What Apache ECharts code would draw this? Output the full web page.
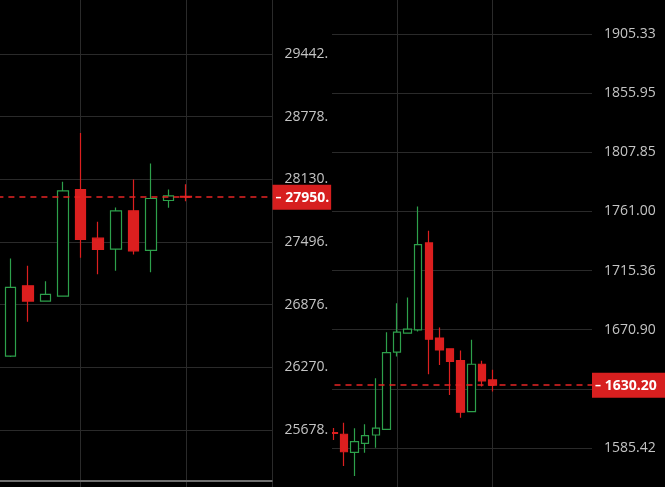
<!DOCTYPE html>
<html><head><meta charset="utf-8">
<script src="https://cdn.jsdelivr.net/npm/echarts@6/dist/echarts.min.js"></script>
<style>html,body{margin:0;padding:0;background:#000;}#c{width:665px;height:487px;}</style>
</head><body><div id="c"></div>
<script>
// ---------- Left panel data (candles, oldest first) ----------
const leftOpen  = [26379, 27062, 26912, 26961, 28028, 27536, 27426, 27811, 27413, 27916, 27958];
const leftClose = [27046, 26912, 26977, 28014, 27523, 27423, 27811, 27409, 27936, 27962, 27950];
const leftLow   = [26370, 26710, 26905, 26958, 27339, 27177, 27210, 27373, 27197, 27841, 27909];
const leftHigh  = [27333, 27260, 27108, 28106, 28611, 27700, 27845, 28130, 28294, 28028, 28082];
const leftTickLabels = ['25099.', '25678.', '26270.', '26876.', '27496.', '28130.', '28778.', '29442.', '30121.'];
const leftPriceTag = '27950.';

// ---------- Right panel data ----------
const rightOpen  = [1596.2, 1595.1, 1582.4, 1588.7, 1594.6, 1598.6, 1654.2, 1668.3, 1670.7, 1736.3, 1664.6, 1656.7, 1648.1, 1611.2, 1645.4, 1634.0];
const rightClose = [1595.8, 1582.8, 1589.9, 1594.1, 1599.4, 1653.9, 1669.0, 1671.2, 1735.0, 1663.8, 1655.9, 1647.4, 1610.8, 1645.4, 1633.3, 1630.2];
const rightLow   = [1591.1, 1572.8, 1565.8, 1582.1, 1585.6, 1598.5, 1651.0, 1668.1, 1669.4, 1638.2, 1644.9, 1623.2, 1606.9, 1611.0, 1629.2, 1625.6];
const rightHigh  = [1599.6, 1603.3, 1599.4, 1602.2, 1635.3, 1669.0, 1690.6, 1694.8, 1764.7, 1745.8, 1672.4, 1657.0, 1655.4, 1663.3, 1647.9, 1641.3];
const rightTickLabels = ['1544.32', '1585.42', '', '1670.90', '1715.36', '1761.00', '1807.85', '1855.95', '1905.33', '1956.00'];
const rightPriceTag = '1630.20';

// ---------- log-axis base derived from the tick labels ----------
function logAxis(labels, loIdx, hiIdx) {
  const lo = parseFloat(labels[loIdx]), hi = parseFloat(labels[hiIdx]);
  const r = Math.pow(hi / lo, 1 / (hiIdx - loIdx));
  const e = Math.round(Math.log(lo) / Math.log(r));
  const base = Math.pow(lo, 1 / e);
  const minExp = e - loIdx;
  const maxExp = minExp + labels.length - 1;
  return { base, minExp, min: Math.pow(base, minExp), max: Math.pow(base, maxExp) };
}
const L = logAxis(leftTickLabels, 1, 7);
const R = logAxis(rightTickLabels, 1, 8);

const GRID = '#2a2a2a';
const LABEL = '#c4c4c4';
const UP = '#2da04b', DOWN = '#dc1f1f', TAG = '#d71f1f', DASH = '#e62424';
const FONT = "'Open Sans', sans-serif";

function candles(o, c, l, h, offset) {
  return o.map((v, i) => [i + offset, v, c[i], l[i], h[i]]);
}
function tagLine(value, text, z, padRight) {
  const ls = { color: DASH, type: [6, 5], width: 1.5, opacity: 1 };
  return {
    z, symbol: ['none', 'none'], silent: true, animation: false,
    lineStyle: ls, itemStyle: { color: DASH },
    label: {
      show: true, position: 'end', distance: 0, formatter: '{d|\u2013} ' + text,
      color: '#fff', fontSize: 14, fontWeight: 'bold', fontFamily: FONT,
      backgroundColor: TAG, padding: [6, padRight, 5, 3],
      rich: { d: { color: '#fff', fontSize: 12, fontFamily: FONT } }
    },
    emphasis: { disabled: true },
    data: [{ yAxis: value, lineStyle: ls }]
  };
}
function yAxisCfg(ax, labels, gridIndex, lineColor, z) {
  return {
    type: 'log', logBase: ax.base, min: ax.min, max: ax.max, splitNumber: 9,
    gridIndex, position: 'right', z,
    axisLine: { show: true, lineStyle: { color: lineColor, width: 1 } },
    axisTick: { show: true, length: 6, lineStyle: { color: '#3a3a3a' } },
    splitLine: { show: true, lineStyle: { color: GRID, width: 1 } },
    axisLabel: {
      margin: 12, color: LABEL, fontSize: 14, fontFamily: FONT,
      formatter: v => labels[Math.round(Math.log(v) / Math.log(ax.base)) - ax.minExp] ?? ''
    }
  };
}

const chart = echarts.init(document.getElementById('c'), null, { renderer: 'canvas' });
chart.setOption({
  backgroundColor: '#000',
  animation: false,
  grid: [
    { left: -24.6, right: 392.5, top: -8.67, bottom: -5.67, containLabel: false, outerBoundsMode: 'none' },
    { left: 301.5, right: 73, top: -25.14, bottom: -20.14, containLabel: false, outerBoundsMode: 'none' }
  ],
  xAxis: [
    { type: 'value', gridIndex: 0, min: 0, max: 16.93, interval: 6,
      axisLine: { show: false }, axisTick: { show: false }, axisLabel: { show: false },
      splitLine: { show: true, lineStyle: { color: GRID } } },
    { type: 'value', gridIndex: 1, min: 0, max: 27.38, interval: 9,
      axisLine: { show: false }, axisTick: { show: false }, axisLabel: { show: false },
      splitLine: { show: true, showMaxLine: false,
        lineStyle: { color: ['rgba(0,0,0,0)', GRID, GRID, 'rgba(0,0,0,0)', 'rgba(0,0,0,0)'] } } }
  ],
  yAxis: [
    yAxisCfg(L, leftTickLabels, 0, '#4a4a4a', 10),
    yAxisCfg(R, rightTickLabels, 1, '#353535', 0)
  ],
  graphic: { elements: [
    { type: 'rect', z: 5, silent: true, shape: { x: 273, y: 0, width: 59, height: 487 }, style: { fill: '#000' } },
    { type: 'rect', z: 11, silent: true, shape: { x: 0, y: 480, width: 272.5, height: 2 }, style: { fill: '#707070' } }
  ] },
  series: [
    { type: 'candlestick', xAxisIndex: 0, yAxisIndex: 0, z: 10,
      data: candles(leftOpen, leftClose, leftLow, leftHigh, 2),
      encode: { x: 0, y: [1, 2, 3, 4] }, barWidth: 11,
      itemStyle: { color: '#000', color0: DOWN, borderColor: UP, borderColor0: DOWN, borderWidth: 1.2 },
      emphasis: { disabled: true },
      markLine: tagLine(leftClose[leftClose.length - 1], leftPriceTag, 12, 2) },
    { type: 'candlestick', xAxisIndex: 1, yAxisIndex: 1, z: 2,
      data: candles(rightOpen, rightClose, rightLow, rightHigh, 3),
      encode: { x: 0, y: [1, 2, 3, 4] }, barWidth: 8,
      itemStyle: { color: '#000', color0: DOWN, borderColor: UP, borderColor0: DOWN, borderWidth: 1.2 },
      emphasis: { disabled: true },
      markLine: tagLine(rightClose[rightClose.length - 1], rightPriceTag, 3, 14) }
  ]
});
</script></body></html>
